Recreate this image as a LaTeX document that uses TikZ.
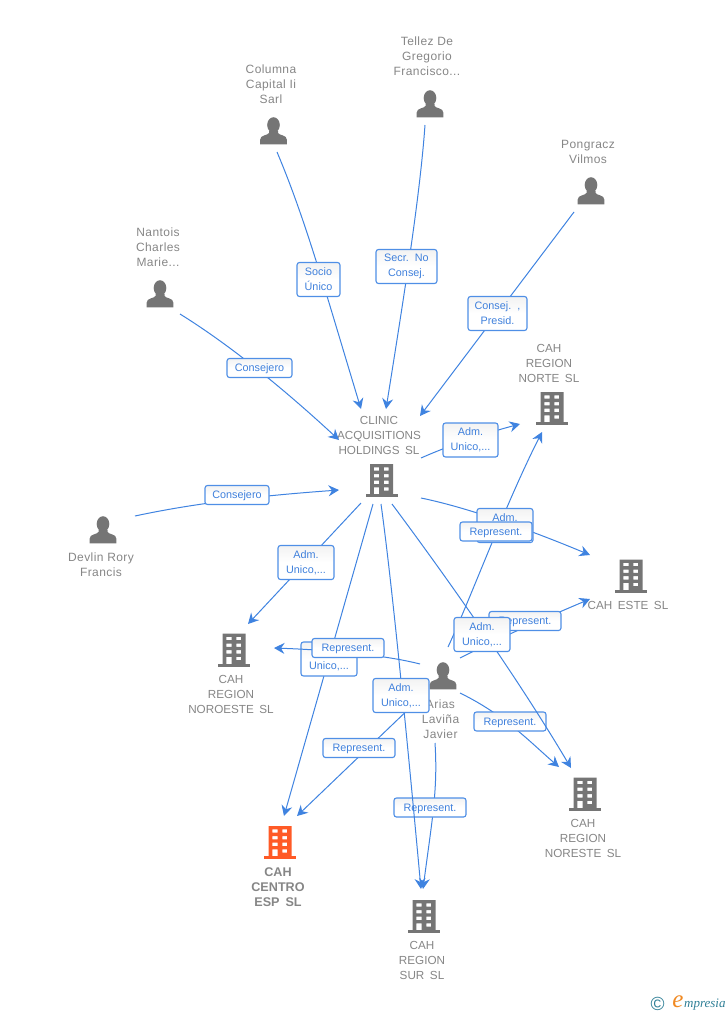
\documentclass[tikz,border=0pt]{standalone}
\usepackage{fontspec}
\setmainfont[WordSpace=1.7]{Liberation Sans}
\newfontfamily\personfont[LetterSpace=3.5]{Liberation Sans}
\newfontfamily\plainfont{Liberation Sans}
\newfontfamily\logofont{Liberation Serif}
\usetikzlibrary{calc,arrows.meta}
\definecolor{txtgrey}{HTML}{868686}
\definecolor{icongrey}{HTML}{757575}
\definecolor{iconorange}{HTML}{FF5A26}
\definecolor{linkblue}{HTML}{3F83E0}
\definecolor{tagedge}{HTML}{4F8FE6}
\definecolor{lblblue}{HTML}{3F80DC}
\definecolor{logoteal}{HTML}{2F7F96}
\definecolor{logoorange}{HTML}{F08A24}
\tikzset{
  iconspot/.style={inner sep=0pt,minimum size=1pt},
  nametext/.style={text=txtgrey,font=\fontsize{11.7}{15}\selectfont,align=center,inner sep=0pt},
  personname/.style={nametext,font=\personfont\fontsize{12}{15}\selectfont},
  boldname/.style={nametext,font=\fontsize{12.6}{15}\selectfont\bfseries},
  edgeline/.style={draw=linkblue,line width=1pt,-{Stealth[length=10.5pt,width=11pt,inset=3.5pt]}},
  tag/.style={draw=tagedge,line width=1.1pt,rounded corners=2.5pt,top color=black!5,bottom color=white,middle color=white,
    text=lblblue,font=\fontsize{10.8}{15}\selectfont,align=center,inner sep=0pt,minimum height=19pt,
    execute at begin node={\rule{0pt}{10pt}}},
  tagtwo/.style={tag,minimum height=34pt},
  pics/bldg/.style={code={
    \fill[#1,even odd rule]
      (-11.5,-16.5) rectangle (11.5,14)
      (-7.7,-13.2) rectangle (-2.3,-9.8) (2.3,-13.2) rectangle (7.2,-9.8)
      (-7.7,-6.5) rectangle (-2.3,-3.2) (2.3,-6.5) rectangle (7.2,-3.2)
      (-7.7,0.2) rectangle (-2.3,3.5) (2.3,0.2) rectangle (7.2,3.5)
      (-7.7,6.8) rectangle (-2.3,14) (2.3,6.8) rectangle (7.2,10.2);
    \fill[#1] (-16,13.7) rectangle (16,16.5);
  }},
  pics/persona/.style={code={
    \fill[icongrey] (0,-6) ellipse [x radius=6.3,y radius=7.8];
    \fill[icongrey] (-4.5,0) -- (-4.5,2) .. controls (-6,4.5) and (-13.3,4) .. (-13.3,8.5) -- (-13.3,13.3)
      -- (13.3,13.3) -- (13.3,8.5) .. controls (13.3,4) and (6,4.5) .. (4.5,2) -- (4.5,0) -- cycle;
  }}
}
\begin{document}
\begin{tikzpicture}[x=1pt,y=-1pt]
\useasboundingbox (0,0) rectangle (728,1015);
% icon anchors
\node[iconspot] (columna) at (273.5,131) {};
\node[iconspot] (tellez) at (430,104) {};
\node[iconspot] (pongracz) at (591,191) {};
\node[iconspot] (nantois) at (160,294) {};
\node[iconspot] (devlin) at (103,530) {};
\node[iconspot] (arias) at (443,676) {};
\node[iconspot] (clinic) at (381.5,480.5) {};
\node[iconspot] (norte) at (552,408.5) {};
\node[iconspot] (este) at (631,576) {};
\node[iconspot] (noroeste) at (234,650) {};
\node[iconspot] (noreste) at (585,794) {};
\node[iconspot] (centro) at (280,842.5) {};
\node[iconspot] (sur) at (424,916.5) {};
\foreach \p in {columna,tellez,pongracz,nantois,devlin,arias} \pic at (\p) {persona};
\foreach \b in {clinic,norte,este,noroeste,noreste,sur} \pic at (\b) {bldg=icongrey};
\pic at (centro) {bldg=iconorange};
% names
\node[personname] (ncolumna) at (271,84.5) {Columna\\Capital Ii\\Sarl};
\node[personname] (ntellez) at (427,56.5) {Tellez De\\Gregorio\\Francisco...};
\node[personname] (npongracz) at (588,152) {Pongracz\\Vilmos};
\node[personname] (nnantois) at (158,247.5) {Nantois\\Charles\\Marie...};
\node[nametext] (nclinic) at (379,435) {CLINIC\\ACQUISITIONS\\HOLDINGS SL};
\node[nametext] (nnorte) at (549,363) {CAH\\REGION\\NORTE SL};
\node[personname] (ndevlin) at (101,565) {Devlin Rory\\Francis};
\node[nametext] (neste) at (628,605) {CAH ESTE SL};
\node[nametext] (nnoroeste) at (231,694) {CAH\\REGION\\NOROESTE SL};
\node[personname] (narias) at (440.5,719.5) {Arias\\Laviña\\Javier};
\node[nametext] (nnoreste) at (583,838) {CAH\\REGION\\NORESTE SL};
\node[boldname] (ncentro) at (278,887) {CAH\\CENTRO\\ESP SL};
\node[nametext] (nsur) at (422,960) {CAH\\REGION\\SUR SL};
% connector ends
\coordinate (e1a) at ($(columna)+(3.5,21)$);   \coordinate (e1b) at ($(clinic)+(-20.5,-71.5)$);
\coordinate (e2a) at ($(tellez)+(-5,21)$);     \coordinate (e2b) at ($(clinic)+(4.5,-71.5)$);
\coordinate (e3a) at ($(pongracz)+(-17,21)$);  \coordinate (e3b) at ($(clinic)+(38.5,-64.5)$);
\coordinate (e4a) at ($(nantois)+(20,20)$);    \coordinate (e4b) at ($(clinic)+(-42.5,-40.5)$);
\coordinate (e5a) at ($(devlin)+(32,-14)$);    \coordinate (e5b) at ($(clinic)+(-42.5,9.5)$);
\coordinate (e6a) at ($(clinic)+(39.5,-22.5)$);\coordinate (e6b) at ($(norte)+(-32,15.5)$);
\coordinate (e7a) at ($(clinic)+(39.5,17.5)$); \coordinate (e7b) at ($(este)+(-41,-21)$);
\coordinate (e8a) at ($(clinic)+(-20.5,22.5)$);\coordinate (e8b) at ($(noroeste)+(14,-26)$);
\coordinate (e9a) at ($(clinic)+(-8.5,23.5)$); \coordinate (e9b) at ($(centro)+(4,-26.5)$);
\coordinate (e10a) at ($(clinic)+(-0.5,23.5)$);\coordinate (e10b) at ($(sur)+(-3,-27.5)$);
\coordinate (e11a) at ($(clinic)+(10.5,23.5)$);\coordinate (e11b) at ($(noreste)+(-14,-26)$);
\coordinate (e12a) at ($(arias)+(5,-29)$);     \coordinate (e12b) at ($(norte)+(-10,23.5)$);
\coordinate (e13a) at ($(arias)+(17,-18)$);    \coordinate (e13b) at ($(este)+(-41,23)$);
\coordinate (e14a) at ($(arias)+(-23,-12)$);   \coordinate (e14b) at ($(noroeste)+(40,-2)$);
\coordinate (e15a) at ($(arias)+(-27,26)$);    \coordinate (e15b) at ($(centro)+(17,-26.5)$);
\coordinate (e16a) at ($(arias)+(17,17)$);     \coordinate (e16b) at ($(noreste)+(-26,-27)$);
\coordinate (e17a) at ($(arias)+(-8,67)$);     \coordinate (e17b) at ($(sur)+(-1,-27.5)$);
% connectors and their tags, in stacking order
\draw[edgeline] (e1a) .. controls (305,218) and (325,290) .. (e1b);
\node[tagtwo,minimum width=43pt] (t1) at (318.5,279.5) {Socio\\Único};
\draw[edgeline] (e2a) .. controls (420,195) and (405,290) .. (e2b);
\node[tagtwo,minimum width=61pt] (t2) at (406.5,266.5) {Secr. No\\Consej.};
\draw[edgeline] (e3a) -- (e3b);
\node[tagtwo,minimum width=59pt] (t3) at (497.5,313.5) {Consej. ,\\Presid.};
\draw[edgeline] (e4a) .. controls (230,345) and (285,390) .. (e4b);
\node[tag,minimum width=65pt] (t4) at (259.5,368) {Consejero};
\draw[edgeline] (e5a) .. controls (200,502) and (270,495) .. (e5b);
\node[tag,minimum width=64pt] (t5) at (237,495) {Consejero};
\draw[edgeline] (e6a) .. controls (455,443) and (490,432) .. (e6b);
\node[tagtwo,minimum width=55pt] (t6) at (470.5,440) {Adm.\\Unico,...};
\draw[edgeline] (e8a) -- (e8b);
\node[tagtwo,minimum width=56pt] (t8) at (306,562.5) {Adm.\\Unico,...};
\draw[edgeline] (e12a) .. controls (470,600) and (505,505) .. (e12b);
\draw[edgeline] (e7a) .. controls (470,508) and (535,532) .. (e7b);
\node[tagtwo,minimum width=56pt] (t7) at (505,525.5) {Adm.\\Unico,...};
\node[tag,minimum width=72pt] (t12) at (496,531.5) {Represent.};
\draw[edgeline] (e9a) -- (e9b);
\node[tagtwo,minimum width=56pt] (t9) at (329,659) {Adm.\\Unico,...};
\draw[edgeline] (e14a) .. controls (385,655) and (330,650) .. (e14b);
\node[tag,minimum width=72pt] (t14) at (348,648) {Represent.};
\draw[edgeline] (e13a) .. controls (495,640) and (545,618) .. (e13b);
\node[tag,minimum width=72pt] (t13) at (525,621) {Represent.};
\draw[edgeline] (e17a) .. controls (438,790) and (432,820) .. (e17b);
\node[tag,minimum width=72pt] (t17) at (430,807.5) {Represent.};
\draw[edgeline] (e16a) .. controls (505,715) and (530,742) .. (e16b);
\node[tag,minimum width=72pt] (t16) at (510,721.5) {Represent.};
\draw[edgeline] (e11a) .. controls (430,555) and (510,665) .. (e11b);
\node[tagtwo,minimum width=56pt] (t11) at (482,634.5) {Adm.\\Unico,...};
\draw[edgeline] (e15a) -- (e15b);
\node[tag,minimum width=72pt] (t15) at (359,748) {Represent.};
\draw[edgeline] (e10a) .. controls (393,590) and (410,770) .. (e10b);
\node[tagtwo,minimum width=56pt] (t10) at (401,695.5) {Adm.\\Unico,...};
% logo
\node[text=logoteal,font=\plainfont\fontsize{19}{19}\selectfont,inner sep=0pt] (logoc) at (657.5,1004) {©};
\node[text=logoorange,font=\logofont\itshape\fontsize{25}{25}\selectfont,inner sep=0pt] (logoe) at (678,1002) {e};
\node[text=logoteal,font=\logofont\itshape\fontsize{13}{14}\selectfont,inner sep=0pt,anchor=west] (logot) at (684,1004.5) {mpresia};
\end{tikzpicture}
\end{document}
